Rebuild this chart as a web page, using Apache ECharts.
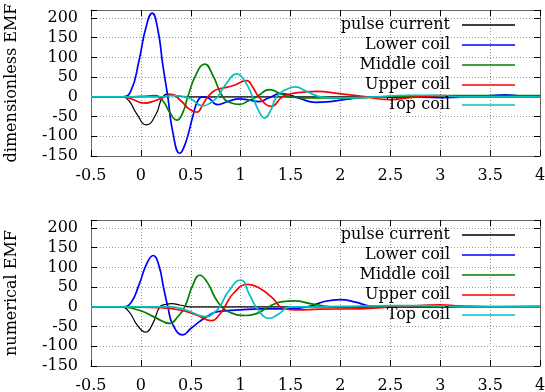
<!DOCTYPE html>
<html>
<head>
<meta charset="UTF-8">
<title>EMF comparison</title>
<script src="https://cdn.jsdelivr.net/npm/echarts@6/dist/echarts.min.js"></script>
<style>
  body { margin: 0; background: #fff; }
  #chart { width: 545px; height: 392px; }
</style>
</head>
<body>
<div id="chart"></div>
<script>
// series names (legend order)
const seriesNames = ['pulse current', 'Lower coil', 'Middle coil', 'Upper coil', 'Top coil'];
const seriesColors = ['#000000', '#0000ff', '#008000', '#ff0000', '#00c0c0'];

// x tick values, y tick values
const xTicks = [-0.5, 0, 0.5, 1, 1.5, 2, 2.5, 3, 3.5, 4];
const yTicks = [-150, -100, -50, 0, 50, 100, 150, 200];

// top panel: dimensionless EMF, [time, value]
const pulseTop = [[-0.5,0],[-0.2,0],[-0.12,-10],[-0.05,-40],[0.057,-71],[0.15,-45],[0.22,0],[0.29,7],[0.36,3],[0.45,0],[4,0]];
const lowerTop = [[-0.5,0],[-0.18,0],[-0.1,15],[-0.02,90],[0.05,175],[0.113,212],[0.17,170],[0.22,80],[0.27,0],[0.32,-90],[0.39,-143],[0.45,-115],[0.52,-50],[0.57,-10],[0.62,0],[0.67,-2],[0.77,-20],[0.87,-12],[0.99,-5],[1.08,-8],[1.18,-12],[1.28,-3],[1.4,8],[1.5,4],[1.6,-5],[1.75,-14],[1.9,-12],[2.1,-5],[2.3,-1],[2.6,0],[3.0,-2],[3.4,1],[3.65,5],[3.85,1],[4,-1]];
const middleTop = [[-0.5,0],[-0.15,0],[0.0,1],[0.14,3],[0.22,-10],[0.29,-40],[0.36,-59],[0.42,-40],[0.47,0],[0.55,55],[0.64,83],[0.72,55],[0.82,0],[0.9,-15],[0.99,-19],[1.08,-10],[1.16,0],[1.29,18],[1.4,8],[1.5,0],[1.7,-3],[2.0,-3],[2.5,0],[3.0,3],[4,3]];
const upperTop = [[-0.5,0],[-0.2,0],[-0.1,-5],[0.04,-16],[0.14,-10],[0.24,0],[0.31,5],[0.4,-10],[0.48,-30],[0.56,-39],[0.62,-20],[0.67,0],[0.74,16],[0.82,22],[0.92,28],[1.06,41],[1.12,25],[1.19,-3],[1.31,-24],[1.42,0],[1.55,10],[1.76,14],[1.99,8],[2.2,2],[2.5,-7],[2.7,-2],[3.0,3],[3.3,0],[4,0]];
const topTop = [[-0.5,0],[0.2,0],[0.3,3],[0.4,2],[0.5,-5],[0.62,-23],[0.7,-15],[0.77,0],[0.86,35],[0.96,58],[1.04,40],[1.12,0],[1.18,-35],[1.24,-54],[1.3,-35],[1.36,0],[1.45,18],[1.55,25],[1.65,15],[1.8,0],[2.0,-3],[2.3,-1],[2.7,4],[2.9,4],[3.2,0],[4,0]];

// bottom panel: numerical EMF
const pulseBot = [[-0.5,0],[-0.2,0],[-0.12,-12],[-0.04,-45],[0.047,-64],[0.12,-42],[0.19,0],[0.25,6],[0.31,8],[0.4,4],[0.5,0],[4,0]];
const lowerBot = [[-0.5,0],[-0.18,0],[-0.1,10],[-0.02,55],[0.06,110],[0.123,130],[0.18,105],[0.23,45],[0.27,0],[0.32,-45],[0.42,-71],[0.5,-55],[0.59,-37],[0.68,-22],[0.77,-12],[0.99,-8],[1.2,-5],[1.5,-5],[1.7,2],[1.85,14],[2.0,18],[2.15,12],[2.3,2],[2.5,0],[3.0,0],[3.5,0],[4,1]];
const middleBot = [[-0.5,0],[-0.2,0],[-0.1,-3],[0.02,-12],[0.15,-28],[0.29,-42],[0.37,-25],[0.44,0],[0.52,55],[0.59,80],[0.67,60],[0.74,25],[0.81,0],[0.9,-15],[1.05,-22],[1.15,-18],[1.25,-5],[1.32,5],[1.42,13],[1.54,15],[1.7,8],[1.9,0],[2.05,-2],[2.5,1],[3,1],[4,0]];
const upperBot = [[-0.5,0],[-0.2,0],[0.2,-2],[0.39,-8],[0.55,-20],[0.71,-35],[0.78,-22],[0.84,0],[0.93,35],[1.07,57],[1.19,47],[1.32,22],[1.42,-3],[1.55,-8],[1.8,-6],[2.2,-5],[2.5,-1],[2.8,3],[3.0,5],[3.2,2],[3.5,0],[4,0]];
const topBot = [[-0.5,0],[0.3,0],[0.45,-8],[0.59,-22],[0.66,-25],[0.73,-15],[0.79,0],[0.88,40],[1.0,68],[1.09,30],[1.18,-10],[1.29,-29],[1.38,-18],[1.5,0],[1.7,0],[2.0,1],[2.5,3],[2.9,3],[3.2,0],[4,0]];

const topData = [pulseTop, lowerTop, middleTop, upperTop, topTop];
const botData = [pulseBot, lowerBot, middleBot, upperBot, topBot];

const font = 'DejaVu Serif';
const fs = 16;

function xAxes(gridIndex) {
    return [{
        type: 'value', gridIndex: gridIndex, min: xTicks[0], max: xTicks[xTicks.length - 1], interval: 0.5,
        axisLine: { onZero: false, lineStyle: { color: '#666', width: 1 } },
        axisTick: { inside: true, length: 6, lineStyle: { color: '#000' } },
        axisLabel: { color: '#000', fontFamily: font, fontSize: fs, margin: 12 },
        splitLine: { show: true, lineStyle: { color: '#999', type: [1, 2] } }
    }, {
        type: 'value', gridIndex: gridIndex, position: 'top', min: xTicks[0], max: xTicks[xTicks.length - 1], interval: 0.5,
        axisLine: { onZero: false, lineStyle: { color: '#666', width: 1 } },
        axisTick: { inside: true, length: 6, lineStyle: { color: '#000' } },
        axisLabel: { show: false }, splitLine: { show: false }
    }];
}

function yAxes(gridIndex, name) {
    const fmt = v => (yTicks.indexOf(v) >= 0 ? String(v) : '');
    return [{
        type: 'value', gridIndex: gridIndex, min: -150, max: 220, interval: 50,
        name: name, nameLocation: 'middle', nameGap: 71, nameRotate: 90,
        nameTextStyle: { color: '#000', fontFamily: font, fontSize: fs },
        axisLine: { onZero: false, lineStyle: { color: '#666', width: 1 } },
        axisTick: { inside: true, length: 6, lineStyle: { color: '#000' } },
        axisLabel: { color: '#000', fontFamily: font, fontSize: fs, margin: 13, formatter: fmt },
        splitLine: { show: true, lineStyle: { color: '#999', type: [1, 2] } }
    }, {
        type: 'value', gridIndex: gridIndex, position: 'right', min: -150, max: 220, interval: 50,
        axisLine: { onZero: false, lineStyle: { color: '#666', width: 1 } },
        axisTick: { inside: true, length: 6, lineStyle: { color: '#000' } },
        axisLabel: { show: false }, splitLine: { show: false }
    }];
}

function makeSeries(dataSets, xIndex, yIndex) {
    return dataSets.map((d, i) => ({
        name: seriesNames[i],
        type: 'line',
        xAxisIndex: xIndex,
        yAxisIndex: yIndex,
        data: d,
        smooth: 0.5,
        symbol: 'none',
        color: seriesColors[i],
        lineStyle: { color: seriesColors[i], width: i === 0 ? 1.2 : 1.7 }
    }));
}

function legendAt(top) {
    return {
        orient: 'vertical', align: 'right', right: 25, top: top,
        icon: 'rect', itemWidth: 53, itemHeight: 1.6, itemGap: 0,
        data: seriesNames,
        selectedMode: false,
        textStyle: { color: '#000', fontFamily: font, fontSize: fs, lineHeight: 20, padding: [0, 7, 0, 0] }
    };
}

const chart = echarts.init(document.getElementById('chart'));
chart.setOption({
    animation: false,
    backgroundColor: '#fff',
    grid: [
        { left: 91, right: 5, top: 10, height: 146, outerBoundsMode: 'none' },
        { left: 91, right: 5, top: 220, height: 146, outerBoundsMode: 'none' }
    ],
    legend: [legendAt(10), legendAt(220)],
    xAxis: xAxes(0).concat(xAxes(1)),
    yAxis: yAxes(0, 'dimensionless EMF').concat(yAxes(1, 'numerical EMF')),
    series: makeSeries(topData, 0, 0).concat(makeSeries(botData, 2, 2))
});
</script>
</body>
</html>
